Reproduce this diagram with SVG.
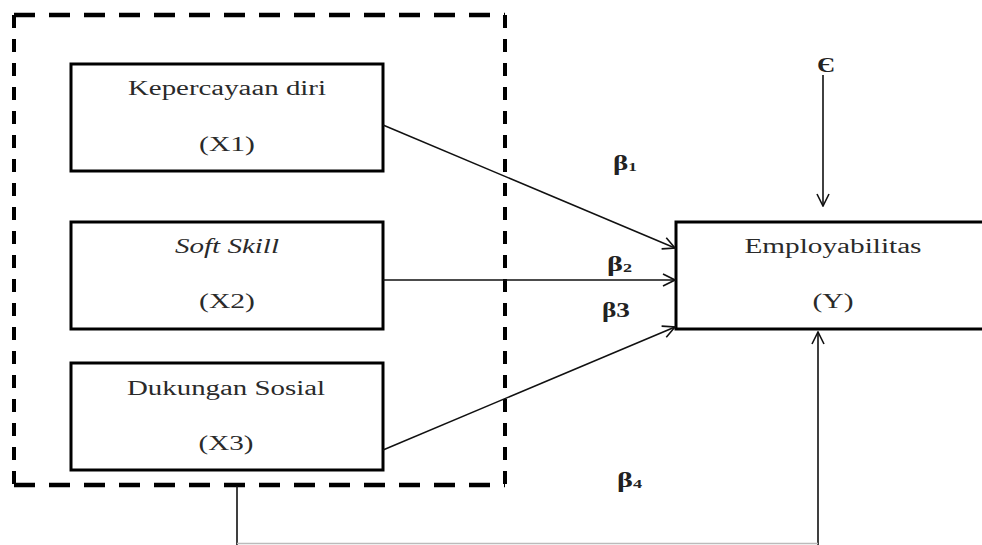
<svg xmlns="http://www.w3.org/2000/svg" width="982" height="545" viewBox="0 0 982 545">
<defs>
<style>
.box{fill:#fff;stroke:#000;stroke-width:3}
.t{font-family:"Liberation Serif","Times New Roman",serif;font-size:20px;fill:#2a2a2a;text-anchor:middle}
.b{font-family:"Liberation Serif","Times New Roman",serif;font-size:20px;font-weight:bold;fill:#222}
.c{fill:none;stroke:#111;stroke-width:1.6}
.dh{stroke:#000;stroke-width:4.5;stroke-dasharray:21 14;fill:none}
.dv{stroke:#000;stroke-width:4;stroke-dasharray:13 11;fill:none}
</style>
<marker id="ah" viewBox="0 0 14 14" refX="13" refY="7" markerWidth="14" markerHeight="14" markerUnits="userSpaceOnUse" orient="auto">
<path d="M1,1 L13,7 L1,13" fill="none" stroke="#111" stroke-width="1.6"/>
</marker>
</defs>
<rect width="982" height="545" fill="#fff"/>
<g id="group-box">
<line class="dh" x1="14" y1="15" x2="505" y2="15"/>
<line class="dh" x1="14" y1="485" x2="505" y2="485"/>
<line class="dv" x1="14" y1="15" x2="14" y2="485"/>
<line class="dv" x1="505" y1="15" x2="505" y2="485"/>
</g>
<g id="x1">
<rect class="box" x="71" y="64" width="312" height="107"/>
<text class="t" x="227" y="95" textLength="198" lengthAdjust="spacingAndGlyphs">Kepercayaan diri</text>
<text class="t" x="227" y="151" textLength="56" lengthAdjust="spacingAndGlyphs">(X1)</text>
</g>
<g id="x2">
<rect class="box" x="71" y="222" width="312" height="107"/>
<text class="t" x="227" y="253" font-style="italic" textLength="104" lengthAdjust="spacingAndGlyphs">Soft Skill</text>
<text class="t" x="227" y="308" textLength="56" lengthAdjust="spacingAndGlyphs">(X2)</text>
</g>
<g id="x3">
<rect class="box" x="71" y="363" width="312" height="107"/>
<text class="t" x="226" y="395" textLength="198" lengthAdjust="spacingAndGlyphs">Dukungan Sosial</text>
<text class="t" x="226" y="450" textLength="55" lengthAdjust="spacingAndGlyphs">(X3)</text>
</g>
<g id="y">
<rect class="box" x="676" y="222" width="320" height="107"/>
<text class="t" x="833" y="253" textLength="177" lengthAdjust="spacingAndGlyphs">Employabilitas</text>
<text class="t" x="833" y="308" textLength="41" lengthAdjust="spacingAndGlyphs">(Y)</text>
</g>
<g id="connectors">
<line class="c" x1="383" y1="125" x2="675" y2="248" marker-end="url(#ah)"/>
<line class="c" x1="383" y1="280" x2="675" y2="280" marker-end="url(#ah)"/>
<line class="c" x1="383" y1="450" x2="675" y2="327" marker-end="url(#ah)"/>
<line class="c" x1="823" y1="75" x2="823" y2="206" marker-end="url(#ah)"/>
<path class="c" d="M237,486 V545 M818,545 V332" marker-end="url(#ah)"/>
<line x1="237" y1="543.5" x2="818" y2="543.5" stroke="#bbb" stroke-width="1.5"/>
</g>
<g id="labels">
<text class="b" x="817" y="72" textLength="18" lengthAdjust="spacingAndGlyphs">Є</text>
<text class="b" x="613" y="170" textLength="24" lengthAdjust="spacingAndGlyphs">β<tspan font-size="12" dy="1">1</tspan></text>
<text class="b" x="607" y="271" textLength="25" lengthAdjust="spacingAndGlyphs">β<tspan font-size="12" dy="1">2</tspan></text>
<text class="b" x="602" y="317" textLength="28" lengthAdjust="spacingAndGlyphs">β3</text>
<text class="b" x="617" y="487" textLength="25" lengthAdjust="spacingAndGlyphs">β<tspan font-size="12" dy="1">4</tspan></text>
</g>
</svg>
